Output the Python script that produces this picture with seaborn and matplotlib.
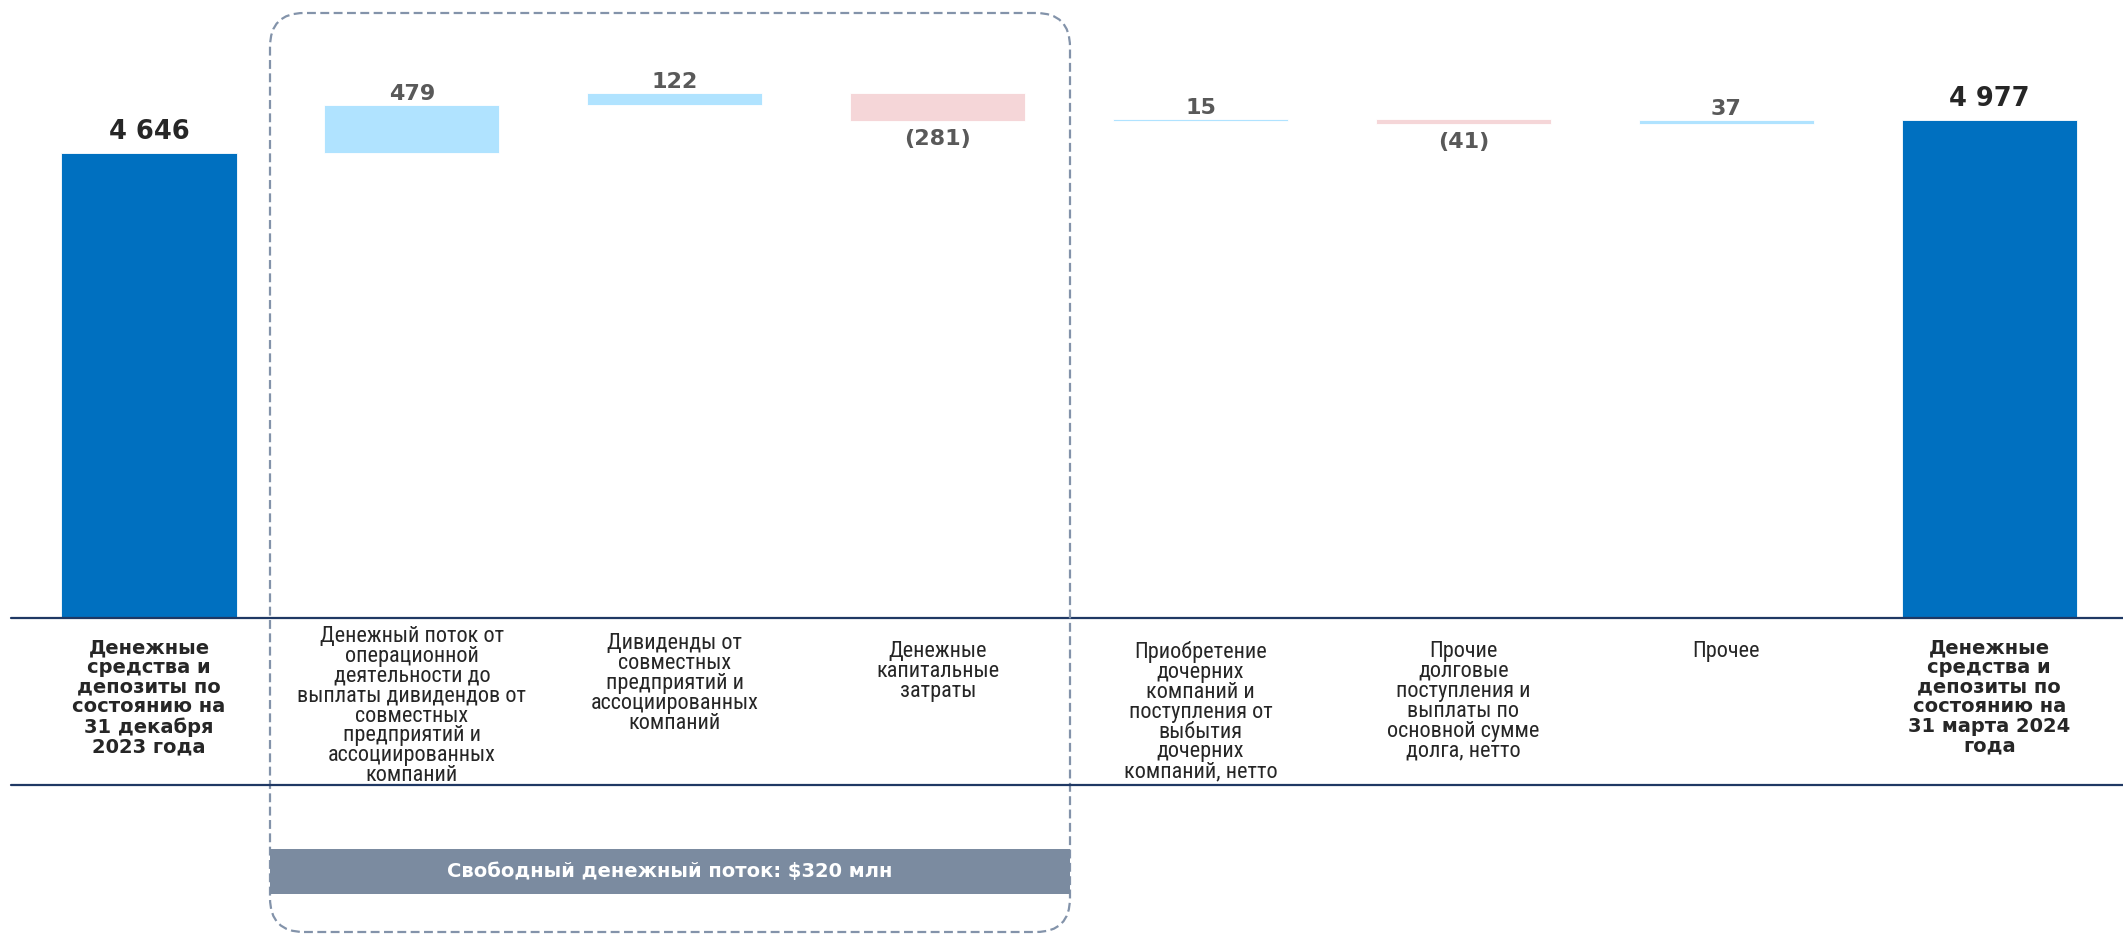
import numpy as np
import pandas as pd
import matplotlib
matplotlib.use("Agg")
import matplotlib.pyplot as plt
import seaborn as sns
from matplotlib import font_manager as fm
from matplotlib.patches import FancyBboxPatch, Rectangle
from matplotlib.lines import Line2D
from matplotlib.transforms import IdentityTransform, blended_transform_factory

# ---------------- data ----------------
categories = [
    "Денежные\nсредства и\nдепозиты по\nсостоянию на\n31 декабря\n2023 года",
    "Денежный поток от\nоперационной\nдеятельности до\nвыплаты дивидендов от\nсовместных\nпредприятий и\nассоциированных\nкомпаний",
    "Дивиденды от\nсовместных\nпредприятий и\nассоциированных\nкомпаний",
    "Денежные\nкапитальные\nзатраты",
    "Приобретение\nдочерних\nкомпаний и\nпоступления от\nвыбытия\nдочерних\nкомпаний, нетто",
    "Прочие\nдолговые\nпоступления и\nвыплаты по\nосновной сумме\nдолга, нетто",
    "Прочее",
    "Денежные\nсредства и\nдепозиты по\nсостоянию на\n31 марта 2024\nгода",
]
start_total = 4646
deltas = [479, 122, -281, 15, -41, 37]
end_total = 4977
is_total = [True, False, False, False, False, False, False, True]
band_text = "Свободный денежный поток: $320 млн"

# ---------------- derived waterfall geometry ----------------
values = [start_total] + deltas + [end_total]
bottoms, heights = [], []
run = start_total
bottoms.append(0); heights.append(start_total)
for d in deltas:
    bottoms.append(run); heights.append(d); run += d
bottoms.append(0); heights.append(end_total)

C_TOTAL = "#0070C0"
C_POS = "#B0E3FF"
C_NEG = "#F5D6D8"
colors = [C_TOTAL if t else (C_POS if v >= 0 else C_NEG) for t, v in zip(is_total, values)]

def fmt(v):
    s = f"{abs(v):,}".replace(",", " ")
    return s if (v >= 0) else f"({s})"

# ---------------- fonts ----------------
sns.set_theme(style="white")
names = {f.name for f in fm.fontManager.ttflist}
narrow = None
for n in ["Liberation Sans Narrow", "DejaVu Sans Condensed", "Roboto Condensed", "Open Sans Condensed"]:
    if n in names:
        narrow = n
        break
plt.rcParams["font.family"] = ["DejaVu Sans"]
if narrow:
    reg_font = dict(family=[narrow, "DejaVu Sans"], size=16)
else:
    reg_font = dict(family=["DejaVu Sans"], stretch="condensed", size=13)

# ---------------- figure ----------------
W, H = 2123, 934
fig = plt.figure(figsize=(W / 100, H / 100), dpi=100)
base_px = 618          # baseline from top
left_px = 11
ax = fig.add_axes([left_px / W, 1 - base_px / H, 1 - left_px / W, base_px / H])

df = pd.DataFrame({"cat": categories, "h": heights})
sns.barplot(data=df, x="cat", y="h", hue="cat", palette=colors, legend=False,
            width=0.666, ax=ax, saturation=1, edgecolor="white", linewidth=0.6)

for patch, b in zip(ax.patches, bottoms):
    patch.set_y(b)

step = 262.9
ax.set_xlim(-(149 - left_px) / step, (W - 149) / step)
ax.set_ylim(0, base_px / 0.1001)
ax.axis("off")

# value labels
for i, (v, b, h, t) in enumerate(zip(values, bottoms, heights, is_total)):
    if t:
        ax.annotate(fmt(v), xy=(i, h), xytext=(0, 14), textcoords="offset pixels",
                    ha="center", va="baseline", fontsize=18.5, fontweight="bold", color="#262626")
    elif v >= 0:
        ax.annotate(fmt(v), xy=(i, b + h), xytext=(0, 5), textcoords="offset pixels",
                    ha="center", va="baseline", fontsize=16, fontweight="bold", color="#595959")
    else:
        ax.annotate(fmt(v), xy=(i, b + h), xytext=(0, -8), textcoords="offset pixels",
                    ha="center", va="top", fontsize=16, fontweight="bold", color="#595959")

# horizontal rules
line_col = "#1F3864"
ax.axhline(0, color=line_col, lw=1.6, clip_on=False, zorder=5)
fig.add_artist(Line2D([left_px / W, 1], [1 - 785 / H] * 2, transform=fig.transFigure,
                      color=line_col, lw=1.6))

# category labels
btr = blended_transform_factory(ax.transData, fig.transFigure)
for i, (lab, t) in enumerate(zip(categories, is_total)):
    n = lab.count("\n") + 1
    if t:
        ax.text(i, 1 - 638 / H, lab, transform=btr, ha="center", va="top",
                fontsize=14, fontweight="bold", color="#262626", linespacing=1.05,
                multialignment="center")
    else:
        top_px = 641 - 15 * (n >= 8) - 8 * (n == 5)
        ax.text(i, 1 - top_px / H, lab, transform=btr, ha="center", va="top",
                color="#262626", linespacing=0.93, multialignment="center", **reg_font)

# dashed rounded box around free-cash-flow components
box_col = "#8393AA"
fig.add_artist(FancyBboxPatch((270, H - 932), 800, 919,
                              boxstyle="round,pad=0,rounding_size=34",
                              transform=IdentityTransform(), fill=False,
                              edgecolor=box_col, lw=1.6, linestyle=(0, (4, 2))))
# grey band with text
fig.add_artist(Rectangle((270, H - 894), 800, 45, transform=IdentityTransform(),
                         facecolor="#7B8BA0", edgecolor="none"))
fig.text(670 / W, 1 - 871.5 / H, band_text, ha="center", va="center",
         color="white", fontsize=14, fontweight="bold")

fig.savefig("out.png", dpi=100, facecolor="white")
